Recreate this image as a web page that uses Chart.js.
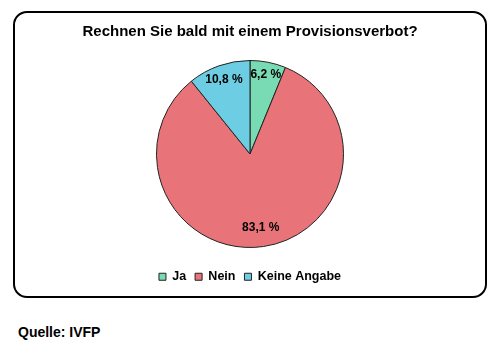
<!DOCTYPE html>
<html>
<head>
<meta charset="utf-8">
<script src="https://cdn.jsdelivr.net/npm/chart.js@4/dist/chart.umd.min.js"></script>
<style>
  body { margin: 0; background: #fff; width: 500px; height: 353px; position: relative; overflow: hidden; font-family: "Liberation Sans", Arial, sans-serif; }
  #box { position: absolute; left: 13px; top: 11px; width: 470px; height: 283px; border: 2px solid #000; border-radius: 14px; }
  #pieChart { position: absolute; left: 15px; top: 13px; }
  #source { position: absolute; left: 18px; top: 324px; font-size: 14px; font-weight: bold; color: #000; }
</style>
</head>
<body>
<div id="box"></div>
<canvas id="pieChart" width="470" height="280"></canvas>
<div id="source">Quelle: IVFP</div>
<script>
// chart data
var categories = ["Ja", "Nein", "Keine Angabe"];
var shares = [6.2, 83.1, 10.8];
var colours = ['#78dbb4', '#e8747a', '#6dcde3'];
var labelRadius = [0.87, 0.8, 0.84];

// draw "6,2 %" style labels inside each slice
var sliceLabels = {
    id: 'sliceLabels',
    afterDatasetsDraw: function(chart) {
        var ctx = chart.ctx;
        var meta = chart.getDatasetMeta(0);
        ctx.save();
        ctx.font = 'bold 12px "Liberation Sans", Arial, sans-serif';
        ctx.fillStyle = '#000';
        ctx.textAlign = 'center';
        ctx.textBaseline = 'middle';
        meta.data.forEach(function(arc, i) {
            var mid = (arc.startAngle + arc.endAngle) / 2;
            var r = arc.outerRadius * labelRadius[i];
            var txt = shares[i].toFixed(1).replace('.', ',') + ' %';
            ctx.fillText(txt, arc.x + Math.cos(mid) * r, arc.y + Math.sin(mid) * r);
        });
        ctx.restore();
    }
};

var pieChart = new Chart(document.getElementById('pieChart'), {
    type: 'pie',
    data: {
        labels: categories,
        datasets: [{
            data: shares,
            backgroundColor: colours,
            borderColor: '#222',
            borderWidth: 1,
            radius: 93.5
        }]
    },
    options: {
        responsive: false,
        animation: false,
        plugins: {
            title: {
                display: true,
                text: 'Rechnen Sie bald mit einem Provisionsverbot?',
                color: '#000',
                font: { family: '"Liberation Sans", Arial, sans-serif', size: 15, weight: 'bold' },
                padding: { top: 10, bottom: 5.5 }
            },
            legend: {
                position: 'bottom',
                labels: {
                    color: '#000',
                    boxWidth: 7,
                    boxHeight: 7,
                    padding: 9,
                    font: { family: '"Liberation Sans", Arial, sans-serif', size: 12.5, weight: 'bold' }
                }
            },
            tooltip: { enabled: false }
        }
    },
    plugins: [sliceLabels]
});
</script>
</body>
</html>
